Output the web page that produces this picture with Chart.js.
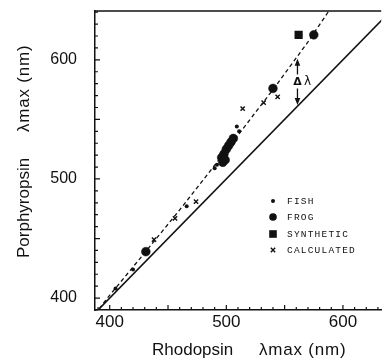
<!DOCTYPE html>
<html><head><meta charset="utf-8">
<script src="https://cdn.jsdelivr.net/npm/chart.js@4.4.1/dist/chart.umd.min.js"></script>
<style>html,body{margin:0;padding:0;background:#fff}</style>
</head><body>
<canvas id="c" width="387" height="361" style="width:387px;height:361px;display:block"></canvas>
<script>
// ---- data ----
const xTicks = [400, 500, 600];
const yTicks = [400, 500, 600];
const identityX = [380, 650];
const identityY = [380, 650];
const fitX = [391, 398, 430, 460, 500, 540, 570, 592];
const fitY = [391, 400, 438, 474, 524, 575, 615, 647];
const fishX = [405, 420, 466, 490, 492, 509, 511];
const fishY = [408, 424, 477, 509, 512, 544, 540];
const frogX = [431, 496, 497, 498, 499, 500, 502, 504, 506, 540, 575];
const frogY = [439, 518, 514, 521, 516, 525, 528, 531, 534, 576, 621];
const synthX = [562];
const synthY = [621];
const calcX = [438, 456, 474, 514, 532, 544];
const calcY = [449, 467, 481, 559, 564, 569];
const deltaX = 561, deltaTop = 601, deltaBottom = 562;
const legendLabels = ['FISH', 'FROG', 'SYNTHETIC', 'CALCULATED'];
const xTitleParts = ['Rhodopsin', 'λmax (nm)'];
const yTitleParts = ['Porphyropsin', 'λmax (nm)'];

const INK = '#111';
const FAM = '"Liberation Sans", Arial, sans-serif';
const pts = (xs, ys) => xs.map((x, i) => ({x, y: ys[i]}));

const frame = {
  id: 'frame',
  afterDraw(chart) {
    const {ctx, chartArea: a, scales: {x, y}} = chart;
    ctx.save();
    ctx.strokeStyle = INK; ctx.fillStyle = INK;
    // top border
    ctx.lineWidth = 1.5;
    ctx.beginPath(); ctx.moveTo(a.left, a.top); ctx.lineTo(a.right, a.top); ctx.stroke();
    // inward ticks
    ctx.lineWidth = 1.2;
    ctx.beginPath();
    for (let v = 390; v <= 630; v += 10) {
      if (v < x.min || v > x.max) continue;
      const px = x.getPixelForValue(v), len = v % 50 === 0 ? 5 : 3;
      ctx.moveTo(px, a.bottom); ctx.lineTo(px, a.bottom - len);
    }
    for (let v = 390; v <= 640; v += 10) {
      if (v < y.min || v > y.max) continue;
      const py = y.getPixelForValue(v), len = v % 50 === 0 ? 5 : 3;
      ctx.moveTo(a.left, py); ctx.lineTo(a.left + len, py);
    }
    ctx.stroke();
    // delta lambda arrow
    const ax = x.getPixelForValue(deltaX);
    const yt = y.getPixelForValue(deltaTop), yb = y.getPixelForValue(deltaBottom);
    const ly = (yt + yb) / 2 - 0.5;
    ctx.lineWidth = 1.3;
    ctx.beginPath();
    ctx.moveTo(ax, yt + 5); ctx.lineTo(ax, ly - 7);
    ctx.moveTo(ax, ly + 7); ctx.lineTo(ax, yb - 5);
    ctx.stroke();
    ctx.beginPath();
    ctx.moveTo(ax, yt); ctx.lineTo(ax - 2.8, yt + 7); ctx.lineTo(ax + 2.8, yt + 7); ctx.closePath();
    ctx.moveTo(ax, yb); ctx.lineTo(ax - 2.8, yb - 7); ctx.lineTo(ax + 2.8, yb - 7); ctx.closePath();
    ctx.fill();
    ctx.font = 'bold 11px "DejaVu Sans", sans-serif';
    ctx.textAlign = 'center'; ctx.textBaseline = 'middle';
    ctx.fillText('Δ', ax, ly + 1);
    ctx.font = '12px "DejaVu Sans", sans-serif';
    ctx.fillText('λ', ax + 10, ly);
    // legend
    const lx = 273, tx = 287, rows = [201, 217, 234, 250];
    ctx.font = '9.5px "Liberation Mono", monospace';
    ctx.letterSpacing = '1.2px';
    ctx.textAlign = 'left'; ctx.textBaseline = 'middle';
    legendLabels.forEach((t, i) => ctx.fillText(t, tx, rows[i] + 0.5));
    ctx.letterSpacing = '0px';
    ctx.beginPath(); ctx.arc(lx, rows[0], 2, 0, Math.PI * 2); ctx.fill();
    ctx.beginPath(); ctx.arc(lx, rows[1], 3.8, 0, Math.PI * 2); ctx.fill();
    ctx.fillRect(lx - 3.8, rows[2] - 3.8, 7.6, 7.6);
    ctx.lineWidth = 1.4;
    ctx.beginPath();
    ctx.moveTo(lx - 2.2, rows[3] - 2.2); ctx.lineTo(lx + 2.2, rows[3] + 2.2);
    ctx.moveTo(lx + 2.2, rows[3] - 2.2); ctx.lineTo(lx - 2.2, rows[3] + 2.2);
    ctx.stroke();
    // axis titles
    ctx.font = '17px ' + FAM;
    ctx.textAlign = 'left'; ctx.textBaseline = 'alphabetic';
    ctx.fillText(xTitleParts[0], 152, 355);
    ctx.letterSpacing = '0.8px';
    ctx.fillText(xTitleParts[1], 259, 355);
    ctx.letterSpacing = '0px';
    ctx.translate(29, 258); ctx.rotate(-Math.PI / 2);
    ctx.fillText(yTitleParts[0], 0, 0);
    ctx.letterSpacing = '0.8px';
    ctx.fillText(yTitleParts[1], 126, 0);
    ctx.restore();
  }
};

new Chart(document.getElementById('c'), {
  type: 'scatter',
  data: { datasets: [
    { type: 'line', data: pts(identityX, identityY), borderColor: INK, borderWidth: 1.6, pointRadius: 0, fill: false },
    { type: 'line', data: pts(fitX, fitY), borderColor: INK, borderWidth: 1.3, borderDash: [4, 3], pointRadius: 0, fill: false },
    { data: pts(fishX, fishY), pointStyle: 'circle', pointRadius: 2, backgroundColor: INK, borderColor: INK, borderWidth: 0 },
    { data: pts(frogX, frogY), pointStyle: 'circle', pointRadius: 4.4, backgroundColor: INK, borderColor: INK, borderWidth: 0.5 },
    { data: pts(synthX, synthY), pointStyle: 'rect', pointRadius: 5.8, backgroundColor: INK, borderColor: INK, borderWidth: 0 },
    { data: pts(calcX, calcY), pointStyle: 'crossRot', pointRadius: 3, backgroundColor: INK, borderColor: INK, borderWidth: 1.4 }
  ]},
  options: {
    responsive: false, animation: false, events: [],
    plugins: { legend: { display: false }, tooltip: { enabled: false } },
    layout: { padding: { top: 11, right: 0, left: 0, bottom: 0 } },
    scales: {
      x: {
        type: 'linear', min: 387.4, max: 632.8,
        afterBuildTicks: s => { s.ticks = xTicks.map(v => ({value: v})); },
        afterFit: s => { s.height = 51; s.paddingLeft = 0; s.paddingRight = 0; },
        grid: { display: false, drawTicks: false },
        border: { display: true, color: INK, width: 1.5 },
        ticks: { font: { family: FAM, size: 17 }, color: INK, padding: 2, maxRotation: 0, autoSkip: false }
      },
      y: {
        type: 'linear', min: 390, max: 641,
        afterBuildTicks: s => { s.ticks = yTicks.map(v => ({value: v})); },
        afterFit: s => { s.width = 95; s.paddingTop = 0; s.paddingBottom = 0; },
        grid: { display: false, drawTicks: false },
        border: { display: true, color: INK, width: 1.5 },
        ticks: { font: { family: FAM, size: 16 }, color: INK, padding: 18, autoSkip: false }
      }
    }
  },
  plugins: [frame]
});
</script>
</body></html>
